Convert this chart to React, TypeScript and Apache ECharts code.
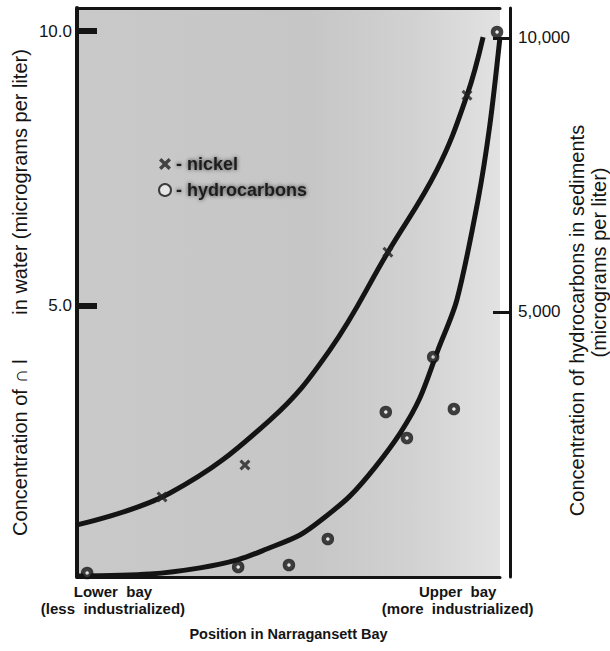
import React, { useEffect, useRef } from "react";
import * as echarts from "echarts";

// Nickel in water (left axis, micrograms per liter)
const nickelX = [20.1, 39.7, 73.5, 92.2];
const nickelY = [1.51, 2.09, 5.97, 8.83];
// Hydrocarbons in sediments (right axis, micrograms per liter)
const hcX = [2.4, 38.1, 50.1, 59.3, 73.0, 78.0, 84.2, 89.1, 99.3];
const hcY = [237, 347, 383, 858, 3175, 2701, 4179, 3230, 10109];
// Hand-drawn fitted curves
const nickelCurveX = [0, 22.0, 45.6, 59.8, 73.5, 85.1, 92.2, 96.0];
const nickelCurveY = [1.0, 1.58, 2.91, 4.19, 5.97, 7.47, 8.83, 9.89];
const hcCurveX = [0, 17.3, 29.1, 38.1, 45.0, 52.7, 58.5, 64.5, 70.5, 76.4, 81.0, 85.3, 89.8, 94.8, 97.6, 100];
const hcCurveY = [182, 219, 330, 480, 680, 930, 1250, 1640, 2170, 2790, 3420, 4300, 5219, 7044, 8412, 10018];
// Axis labels
const leftTicks = [5, 10];
const rightTicks = [5000, 10000];
const xLabelPos = [8.5, 90];
const xLabels = ["Lower  bay\n(less  industrialized)", "Upper  bay\n(more  industrialized)"];

const INK = "#141414";
const X_SYMBOL =
  "path://M0,2 L2,0 L5,3 L8,0 L10,2 L7,5 L10,8 L8,10 L5,7 L2,10 L0,8 L3,5 Z";

export default function App() {
  const ref = useRef<HTMLDivElement>(null);
  useEffect(() => {
    if (!ref.current) return;
    const chart = echarts.init(ref.current, null, { renderer: "svg" });
    const zip = (xs: number[], ys: number[]) => xs.map((x, i) => [x, ys[i]]);
    chart.setOption({
      animation: false,
      backgroundColor: "#ffffff",
      textStyle: { fontFamily: "Liberation Sans, Arial, sans-serif", color: INK },
      grid: {
        left: 77,
        right: 110,
        top: 8,
        bottom: 74,
        outerBoundsMode: "none",
        containLabel: false,
        show: true,
        borderWidth: 0,
        backgroundColor: {
          type: "linear",
          x: 0, y: 0, x2: 1, y2: 0,
          colorStops: [
            { offset: 0, color: "#c9c9c9" },
            { offset: 0.55, color: "#c6c6c6" },
            { offset: 0.8, color: "#d2d2d2" },
            { offset: 1, color: "#e2e2e2" },
          ],
        },
      },
      legend: {
        left: 153,
        top: 150,
        orient: "vertical",
        itemGap: 8,
        itemWidth: 12,
        itemHeight: 12,
        data: ["nickel", "hydrocarbons"],
        formatter: (n: string) => "- " + n,
        textStyle: {
          fontSize: 18,
          fontWeight: "bold",
          color: "#1e1e1e",
          textShadowColor: "rgba(0,0,0,0.7)",
          textShadowBlur: 4,
        },
      },
      xAxis: [
        {
          type: "value",
          min: 0,
          max: 100,
          position: "bottom",
          splitLine: { show: false },
          axisLine: { show: true, onZero: false, lineStyle: { color: INK, width: 3 } },
          axisTick: { show: false },
          axisLabel: {
            customValues: xLabelPos,
            formatter: (v: number) => xLabels[xLabelPos.indexOf(v)] ?? "",
            fontSize: 15,
            fontWeight: "bold",
            lineHeight: 17,
            color: INK,
            margin: 6,
          },
          name: "Position in Narragansett Bay",
          nameLocation: "middle",
          nameGap: 49,
          nameMoveOverlap: false,
          nameTextStyle: { fontSize: 14.5, fontWeight: "bold", color: INK },
        },
        {
          type: "value",
          min: 0,
          max: 100,
          position: "top",
          splitLine: { show: false },
          axisLine: { show: true, onZero: false, lineStyle: { color: INK, width: 3 } },
          axisTick: { show: false },
          axisLabel: { show: false },
        },
      ],
      yAxis: [
        {
          type: "value",
          min: 0.05,
          max: 10.42,
          position: "left",
          splitLine: { show: false },
          axisLine: { show: true, onZero: false, lineStyle: { color: INK, width: 4 } },
          axisTick: {
            show: true,
            inside: true,
            length: 20,
            customValues: leftTicks,
            lineStyle: { color: INK, width: 6 },
          },
          axisLabel: {
            customValues: leftTicks,
            formatter: (v: number) => v.toFixed(1),
            fontSize: 17,
            color: INK,
            margin: 5,
          },
          name: "Concentration of \u2229 l        in water (micrograms per liter)",
          nameLocation: "middle",
          nameRotate: 90,
          nameGap: 47,
          nameMoveOverlap: false,
          nameTextStyle: { fontSize: 20, color: INK },
        },
        {
          type: "value",
          min: 164,
          max: 10547,
          position: "right",
          offset: 10,
          splitLine: { show: false },
          axisLine: { show: true, onZero: false, lineStyle: { color: INK, width: 3 } },
          axisTick: {
            show: true,
            inside: true,
            length: 17,
            customValues: rightTicks,
            lineStyle: { color: INK, width: 3 },
          },
          axisLabel: {
            customValues: rightTicks,
            formatter: (v: number) => v.toLocaleString("en-US"),
            fontSize: 17,
            color: INK,
            margin: 8,
          },
          name: "{a|Concentration of hydrocarbons in sediments}\n{b|(micrograms per liter)}",
          nameLocation: "middle",
          nameRotate: 90,
          nameGap: 56,
          nameMoveOverlap: false,
          nameTextStyle: {
            fontSize: 20,
            color: INK,
            lineHeight: 22,
            align: "center",
            rich: {
              a: { fontSize: 20, color: INK, lineHeight: 22, padding: [0, 56, 0, 0] },
              b: { fontSize: 20, color: INK, lineHeight: 22, padding: [0, 0, 0, 60] },
            },
          },
        },
      ],
      series: [
        {
          name: "nickel curve",
          type: "line",
          xAxisIndex: 0,
          yAxisIndex: 0,
          data: zip(nickelCurveX, nickelCurveY),
          smooth: 0.4,
          showSymbol: false,
          lineStyle: { color: INK, width: 5 },
          z: 2,
        },
        {
          name: "hydrocarbons curve",
          type: "line",
          xAxisIndex: 0,
          yAxisIndex: 1,
          data: zip(hcCurveX, hcCurveY),
          smooth: 0.3,
          showSymbol: false,
          lineStyle: { color: INK, width: 5 },
          z: 2,
        },
        {
          name: "nickel",
          type: "scatter",
          xAxisIndex: 0,
          yAxisIndex: 0,
          data: zip(nickelX, nickelY),
          symbol: X_SYMBOL,
          symbolSize: 11,
          itemStyle: { color: "#222" },
          z: 3,
        },
        {
          name: "hydrocarbons",
          type: "scatter",
          xAxisIndex: 0,
          yAxisIndex: 1,
          data: zip(hcX, hcY),
          symbol: "circle",
          symbolSize: 8,
          itemStyle: { color: "#eeeeee", borderColor: INK, borderWidth: 4.5 },
          z: 3,
        },
      ],
    });
    return () => chart.dispose();
  }, []);
  return (
    <div
      ref={ref}
      style={{ position: "fixed", left: 0, top: 0, width: 610, height: 651 }}
    />
  );
}
